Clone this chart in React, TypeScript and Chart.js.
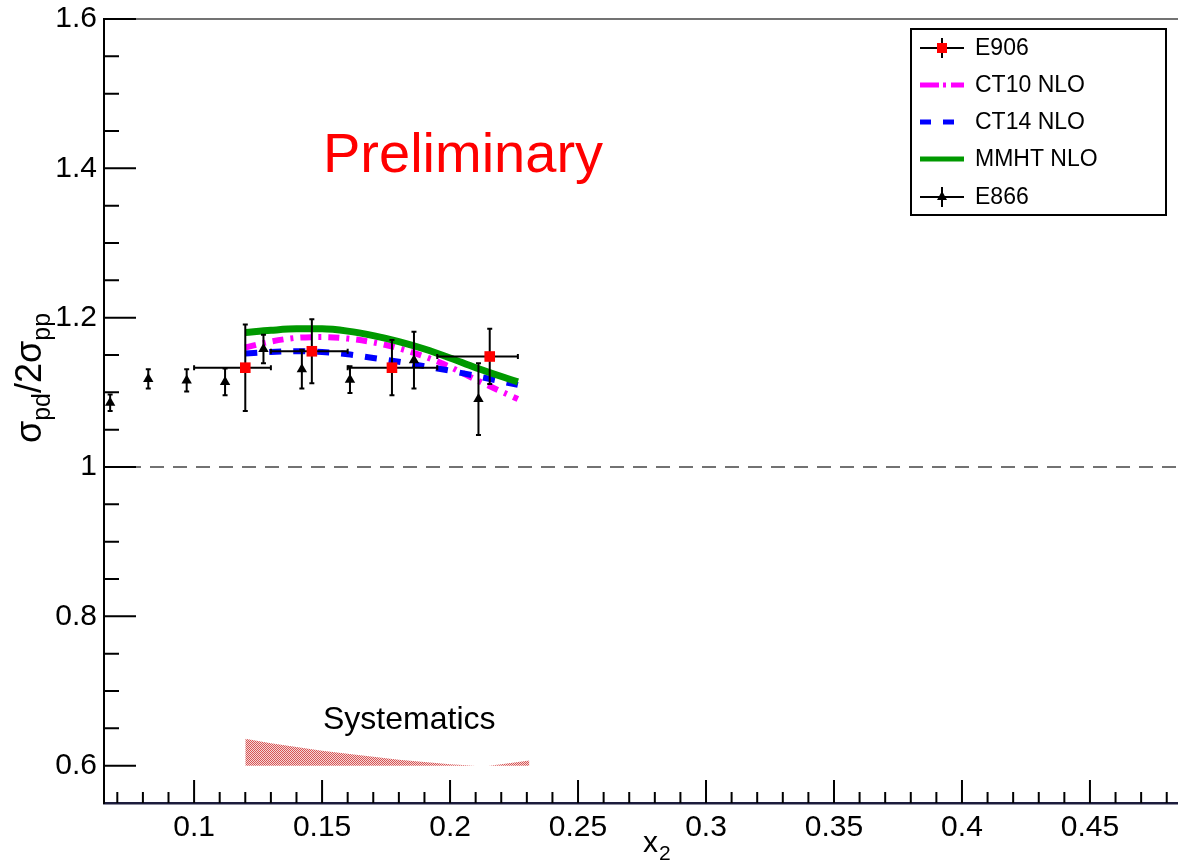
import React, { useEffect, useRef } from "react";
import { Chart, registerables } from "chart.js";
Chart.register(...registerables);

const X_MIN = 0.0648;
const X_MAX = 0.4844;
const Y_MIN = 0.55;
const Y_MAX = 1.6;

const X_MAJOR = [0.1, 0.15, 0.2, 0.25, 0.3, 0.35, 0.4, 0.45];
const X_TICK_LABELS = ["0.1", "0.15", "0.2", "0.25", "0.3", "0.35", "0.4", "0.45"];
const X_MINOR = [0.07, 0.08, 0.09, 0.11, 0.12, 0.13, 0.14, 0.16, 0.17, 0.18, 0.19, 0.21, 0.22, 0.23, 0.24, 0.26, 0.27, 0.28, 0.29, 0.31, 0.32, 0.33, 0.34, 0.36, 0.37, 0.38, 0.39, 0.41, 0.42, 0.43, 0.44, 0.46, 0.47, 0.48];
const Y_MAJOR = [0.6, 0.8, 1.0, 1.2, 1.4, 1.6];
const Y_TICK_LABELS = ["0.6", "0.8", "1", "1.2", "1.4", "1.6"];
const Y_MINOR = [0.65, 0.7, 0.75, 0.85, 0.9, 0.95, 1.05, 1.1, 1.15, 1.25, 1.3, 1.35, 1.45, 1.5, 1.55];

// E906 data
const E906_X = [0.12, 0.146, 0.1773, 0.2155];
const E906_Y = [1.133, 1.155, 1.133, 1.148];
const E906_XLO = [0.1, 0.13, 0.16, 0.195];
const E906_XHI = [0.13, 0.16, 0.195, 0.2265];
const E906_YERR = [0.058, 0.043, 0.037, 0.037];

// E866 data
const E866_X = [0.0672, 0.0821, 0.0971, 0.1121, 0.1271, 0.1421, 0.1609, 0.1859, 0.2111];
const E866_Y = [1.086, 1.118, 1.116, 1.114, 1.158, 1.131, 1.117, 1.143, 1.091];
const E866_YERR = [0.011, 0.013, 0.015, 0.018, 0.019, 0.026, 0.018, 0.038, 0.048];

// Theory curves
const CURVE_X = [0.12, 0.13, 0.14, 0.15, 0.16, 0.17, 0.18, 0.19, 0.2, 0.21, 0.2265];
const MMHT_Y = [1.18, 1.183, 1.185, 1.185, 1.182, 1.176, 1.168, 1.158, 1.146, 1.133, 1.114];
const CT10_Y = [1.16, 1.168, 1.173, 1.174, 1.172, 1.167, 1.159, 1.148, 1.134, 1.117, 1.091];
const CT14_Y = [1.152, 1.154, 1.155, 1.154, 1.151, 1.146, 1.141, 1.135, 1.129, 1.122, 1.11];

// Systematics band (upper edge, filled down to 0.6)
const SYS_X = [0.12, 0.13, 0.14, 0.15, 0.16, 0.17, 0.18, 0.19, 0.2, 0.21, 0.215, 0.22, 0.231];
const SYS_Y = [0.636, 0.63, 0.625, 0.62, 0.616, 0.612, 0.608, 0.605, 0.602, 0.6, 0.6, 0.602, 0.607];
const SYS_BASE = 0.6;

const LEGEND_LABELS = ["E906", "CT10 NLO", "CT14 NLO", "MMHT NLO", "E866"];

const FONT = "'Liberation Sans', Arial, Helvetica, sans-serif";

const zip = (xs: number[], ys: number[]) => xs.map((x, i) => ({ x, y: ys[i] }));

function makePattern(): CanvasPattern | string {
  const c = document.createElement("canvas");
  c.width = 2;
  c.height = 2;
  const g = c.getContext("2d");
  if (!g) return "rgba(200,60,60,0.5)";
  g.clearRect(0, 0, 2, 2);
  g.fillStyle = "rgb(215,85,85)";
  g.fillRect(0, 0, 1, 1);
  g.fillRect(1, 1, 1, 1);
  g.fillStyle = "rgb(245,215,215)";
  g.fillRect(1, 0, 1, 1);
  g.fillRect(0, 1, 1, 1);
  const p = g.createPattern(c, "repeat");
  return p || "rgba(200,60,60,0.5)";
}

const zeroPad = (s: any) => {
  s.paddingTop = 0;
  s.paddingBottom = 0;
  s.paddingLeft = 0;
  s.paddingRight = 0;
};

const errorBarPlugin = {
  id: "errorBars",
  beforeDatasetDraw(chart: any, args: any) {
    const ctx = chart.ctx;
    const xs = chart.scales.x;
    const ys = chart.scales.y;
    ctx.save();
    ctx.strokeStyle = "#000";
    ctx.lineWidth = 2;
    const cap = 2.5;
    if (args.index === 0) {
      for (let i = 0; i < E906_X.length; i++) {
        const px = xs.getPixelForValue(E906_X[i]);
        const py = ys.getPixelForValue(E906_Y[i]);
        const pt = ys.getPixelForValue(E906_Y[i] + E906_YERR[i]);
        const pb = ys.getPixelForValue(E906_Y[i] - E906_YERR[i]);
        const pl = xs.getPixelForValue(E906_XLO[i]);
        const pr = xs.getPixelForValue(E906_XHI[i]);
        ctx.beginPath();
        ctx.moveTo(px, pt);
        ctx.lineTo(px, pb);
        ctx.moveTo(pl, py);
        ctx.lineTo(pr, py);
        ctx.moveTo(px - cap, pt);
        ctx.lineTo(px + cap, pt);
        ctx.moveTo(px - cap, pb);
        ctx.lineTo(px + cap, pb);
        ctx.moveTo(pl, py - cap);
        ctx.lineTo(pl, py + cap);
        ctx.moveTo(pr, py - cap);
        ctx.lineTo(pr, py + cap);
        ctx.stroke();
      }
    } else if (args.index === 1) {
      for (let i = 0; i < E866_X.length; i++) {
        const px = xs.getPixelForValue(E866_X[i]);
        const pt = ys.getPixelForValue(E866_Y[i] + E866_YERR[i]);
        const pb = ys.getPixelForValue(E866_Y[i] - E866_YERR[i]);
        ctx.beginPath();
        ctx.moveTo(px, pt);
        ctx.lineTo(px, pb);
        ctx.moveTo(px - cap, pt);
        ctx.lineTo(px + cap, pt);
        ctx.moveTo(px - cap, pb);
        ctx.lineTo(px + cap, pb);
        ctx.stroke();
      }
    }
    ctx.restore();
  },
};

const decorPlugin = {
  id: "decor",
  afterDraw(chart: any) {
    const ctx = chart.ctx;
    const xs = chart.scales.x;
    const ys = chart.scales.y;
    const area = chart.chartArea;
    ctx.save();

    // top frame line
    ctx.strokeStyle = "#444";
    ctx.lineWidth = 1.5;
    ctx.beginPath();
    ctx.moveTo(area.left, area.top);
    ctx.lineTo(area.right, area.top);
    ctx.stroke();

    // inward ticks
    ctx.strokeStyle = "#000";
    ctx.lineWidth = 2;
    ctx.beginPath();
    X_MAJOR.forEach((v) => {
      const p = xs.getPixelForValue(v);
      ctx.moveTo(p, area.bottom);
      ctx.lineTo(p, area.bottom - 23);
    });
    X_MINOR.forEach((v) => {
      const p = xs.getPixelForValue(v);
      ctx.moveTo(p, area.bottom);
      ctx.lineTo(p, area.bottom - 11);
    });
    Y_MAJOR.forEach((v) => {
      const p = ys.getPixelForValue(v);
      ctx.moveTo(area.left, p);
      ctx.lineTo(area.left + 32, p);
    });
    Y_MINOR.forEach((v) => {
      const p = ys.getPixelForValue(v);
      ctx.moveTo(area.left, p);
      ctx.lineTo(area.left + 15, p);
    });
    ctx.stroke();

    // texts
    ctx.fillStyle = "#ff0000";
    ctx.font = `56px ${FONT}`;
    ctx.textAlign = "left";
    ctx.textBaseline = "alphabetic";
    ctx.fillText("Preliminary", 323, 172);

    ctx.fillStyle = "#000";
    ctx.font = `32px ${FONT}`;
    ctx.fillText("Systematics", 323, 729);

    // x-axis title
    ctx.font = `30px ${FONT}`;
    ctx.fillText("x", 643, 852);
    const xw = ctx.measureText("x").width;
    ctx.font = `21px ${FONT}`;
    ctx.fillText("2", 643 + xw + 1, 860);

    // y-axis title (rotated)
    ctx.save();
    ctx.translate(41, 443);
    ctx.rotate(-Math.PI / 2);
    let cx = 0;
    const parts: [string, boolean][] = [["σ", false], ["pd", true], ["/2σ", false], ["pp", true]];
    parts.forEach(([t, sub]) => {
      ctx.font = sub ? `25px ${FONT}` : `36px ${FONT}`;
      ctx.fillText(t, cx, sub ? 9 : 0);
      cx += ctx.measureText(t).width;
    });
    ctx.restore();

    // legend
    const bx = 911, by = 29, bw = 255, bh = 186;
    ctx.fillStyle = "#fff";
    ctx.fillRect(bx, by, bw, bh);
    ctx.strokeStyle = "#000";
    ctx.lineWidth = 2;
    ctx.strokeRect(bx, by, bw, bh);

    const rowsY = [48, 85, 122, 159, 197];
    const lx0 = 920, lx1 = 964, lxc = 942;
    // E906
    ctx.strokeStyle = "#000";
    ctx.lineWidth = 2;
    ctx.beginPath();
    ctx.moveTo(lx0, rowsY[0]);
    ctx.lineTo(lx1, rowsY[0]);
    ctx.moveTo(lxc, rowsY[0] - 10);
    ctx.lineTo(lxc, rowsY[0] + 10);
    ctx.stroke();
    ctx.fillStyle = "#ff0000";
    ctx.fillRect(lxc - 5, rowsY[0] - 5, 10, 10);
    // CT10
    ctx.lineCap = "butt";
    ctx.strokeStyle = "#ff00ff";
    ctx.lineWidth = 5;
    ctx.setLineDash([19, 4, 3, 5]);
    ctx.beginPath();
    ctx.moveTo(lx0, rowsY[1]);
    ctx.lineTo(lx1, rowsY[1]);
    ctx.stroke();
    // CT14
    ctx.strokeStyle = "#0000ff";
    ctx.setLineDash([11, 12]);
    ctx.beginPath();
    ctx.moveTo(lx0, rowsY[2]);
    ctx.lineTo(lx1, rowsY[2]);
    ctx.stroke();
    // MMHT
    ctx.setLineDash([]);
    ctx.strokeStyle = "#009900";
    ctx.beginPath();
    ctx.moveTo(lx0, rowsY[3]);
    ctx.lineTo(lx1, rowsY[3]);
    ctx.stroke();
    // E866
    ctx.strokeStyle = "#000";
    ctx.lineWidth = 2;
    ctx.beginPath();
    ctx.moveTo(lx0, rowsY[4]);
    ctx.lineTo(lx1, rowsY[4]);
    ctx.moveTo(lxc, rowsY[4] - 10);
    ctx.lineTo(lxc, rowsY[4] + 10);
    ctx.stroke();
    ctx.fillStyle = "#000";
    ctx.beginPath();
    ctx.moveTo(lxc, rowsY[4] - 6);
    ctx.lineTo(lxc + 5, rowsY[4] + 3);
    ctx.lineTo(lxc - 5, rowsY[4] + 3);
    ctx.closePath();
    ctx.fill();

    ctx.fillStyle = "#000";
    ctx.font = `23px ${FONT}`;
    ctx.textBaseline = "middle";
    LEGEND_LABELS.forEach((t, i) => ctx.fillText(t, 975, rowsY[i] + 1));

    ctx.restore();
  },
};

export default function App() {
  const ref = useRef<HTMLCanvasElement | null>(null);
  useEffect(() => {
    if (!ref.current) return;
    const pattern = makePattern();
    const chart = new Chart(ref.current, {
      type: "scatter",
      data: {
        datasets: [
          {
            label: "E906",
            data: zip(E906_X, E906_Y),
            pointStyle: "rect",
            pointRadius: 7.5,
            backgroundColor: "#ff0000",
            borderColor: "#ff0000",
            borderWidth: 0,
            showLine: false,
            order: 0,
          },
          {
            label: "E866",
            data: zip(E866_X, E866_Y),
            pointStyle: "triangle",
            pointRadius: 6,
            backgroundColor: "#000",
            borderColor: "#000",
            borderWidth: 0,
            showLine: false,
            order: 1,
          },
          {
            label: "MMHT NLO",
            data: zip(CURVE_X, MMHT_Y),
            showLine: true,
            pointRadius: 0,
            borderColor: "#009900",
            borderWidth: 7,
            cubicInterpolationMode: "monotone",
            fill: false,
            order: 2,
          },
          {
            label: "CT14 NLO",
            data: zip(CURVE_X, CT14_Y),
            showLine: true,
            pointRadius: 0,
            borderColor: "#0000ff",
            borderWidth: 6,
            borderDash: [12, 12],
            borderCapStyle: "butt",
            cubicInterpolationMode: "monotone",
            fill: false,
            order: 3,
          },
          {
            label: "CT10 NLO",
            data: zip(CURVE_X, CT10_Y),
            showLine: true,
            pointRadius: 0,
            borderColor: "#ff00ff",
            borderWidth: 6,
            borderDash: [11, 7, 3, 7],
            borderCapStyle: "butt",
            cubicInterpolationMode: "monotone",
            fill: false,
            order: 4,
          },
          {
            label: "Systematics",
            data: zip(SYS_X, SYS_Y),
            showLine: true,
            pointRadius: 0,
            borderWidth: 0,
            borderColor: "rgba(0,0,0,0)",
            backgroundColor: pattern as any,
            fill: { value: SYS_BASE },
            tension: 0,
            order: 5,
          },
          {
            label: "ref",
            data: [
              { x: X_MIN, y: 1 },
              { x: X_MAX, y: 1 },
            ],
            showLine: true,
            pointRadius: 0,
            borderColor: "#444",
            borderWidth: 1.5,
            borderDash: [14, 9],
            fill: false,
            order: 6,
          },
        ] as any,
      },
      options: {
        animation: false,
        responsive: false,
        devicePixelRatio: 1,
        events: [],
        layout: { autoPadding: false, padding: { top: 19, left: 0, right: 0, bottom: 0 } },
        plugins: {
          legend: { display: false },
          tooltip: { enabled: false },
          title: { display: false },
        },
        scales: {
          x: {
            type: "linear",
            min: X_MIN,
            max: X_MAX,
            grid: { display: false, drawTicks: false },
            border: { display: true, color: "#1c1c3c", width: 2.5 },
            afterBuildTicks: (s: any) => {
              s.ticks = X_MAJOR.map((v) => ({ value: v }));
            },
            afterFit: (s: any) => {
              s.height = 58;
              zeroPad(s);
            },
            ticks: {
              autoSkip: false,
              maxRotation: 0,
              minRotation: 0,
              padding: 7,
              color: "#000",
              font: { family: FONT, size: 30 },
              callback: (_v: any, i: number) => X_TICK_LABELS[i],
            },
          },
          y: {
            type: "linear",
            min: Y_MIN,
            max: Y_MAX,
            grid: { display: false, drawTicks: false },
            border: { display: true, color: "#000", width: 2 },
            afterBuildTicks: (s: any) => {
              s.ticks = Y_MAJOR.map((v) => ({ value: v }));
            },
            afterFit: (s: any) => {
              s.width = 104;
              zeroPad(s);
            },
            ticks: {
              autoSkip: false,
              padding: 7,
              color: "#000",
              font: { family: FONT, size: 30 },
              callback: (_v: any, i: number) => Y_TICK_LABELS[i],
            },
          },
        },
      } as any,
      plugins: [errorBarPlugin, decorPlugin],
    });
    return () => chart.destroy();
  }, []);
  return (
    <div style={{ position: "absolute", left: 0, top: 0, width: 1178, height: 861 }}>
      <canvas ref={ref} width={1178} height={861} style={{ display: "block", width: 1178, height: 861 }} />
    </div>
  );
}
